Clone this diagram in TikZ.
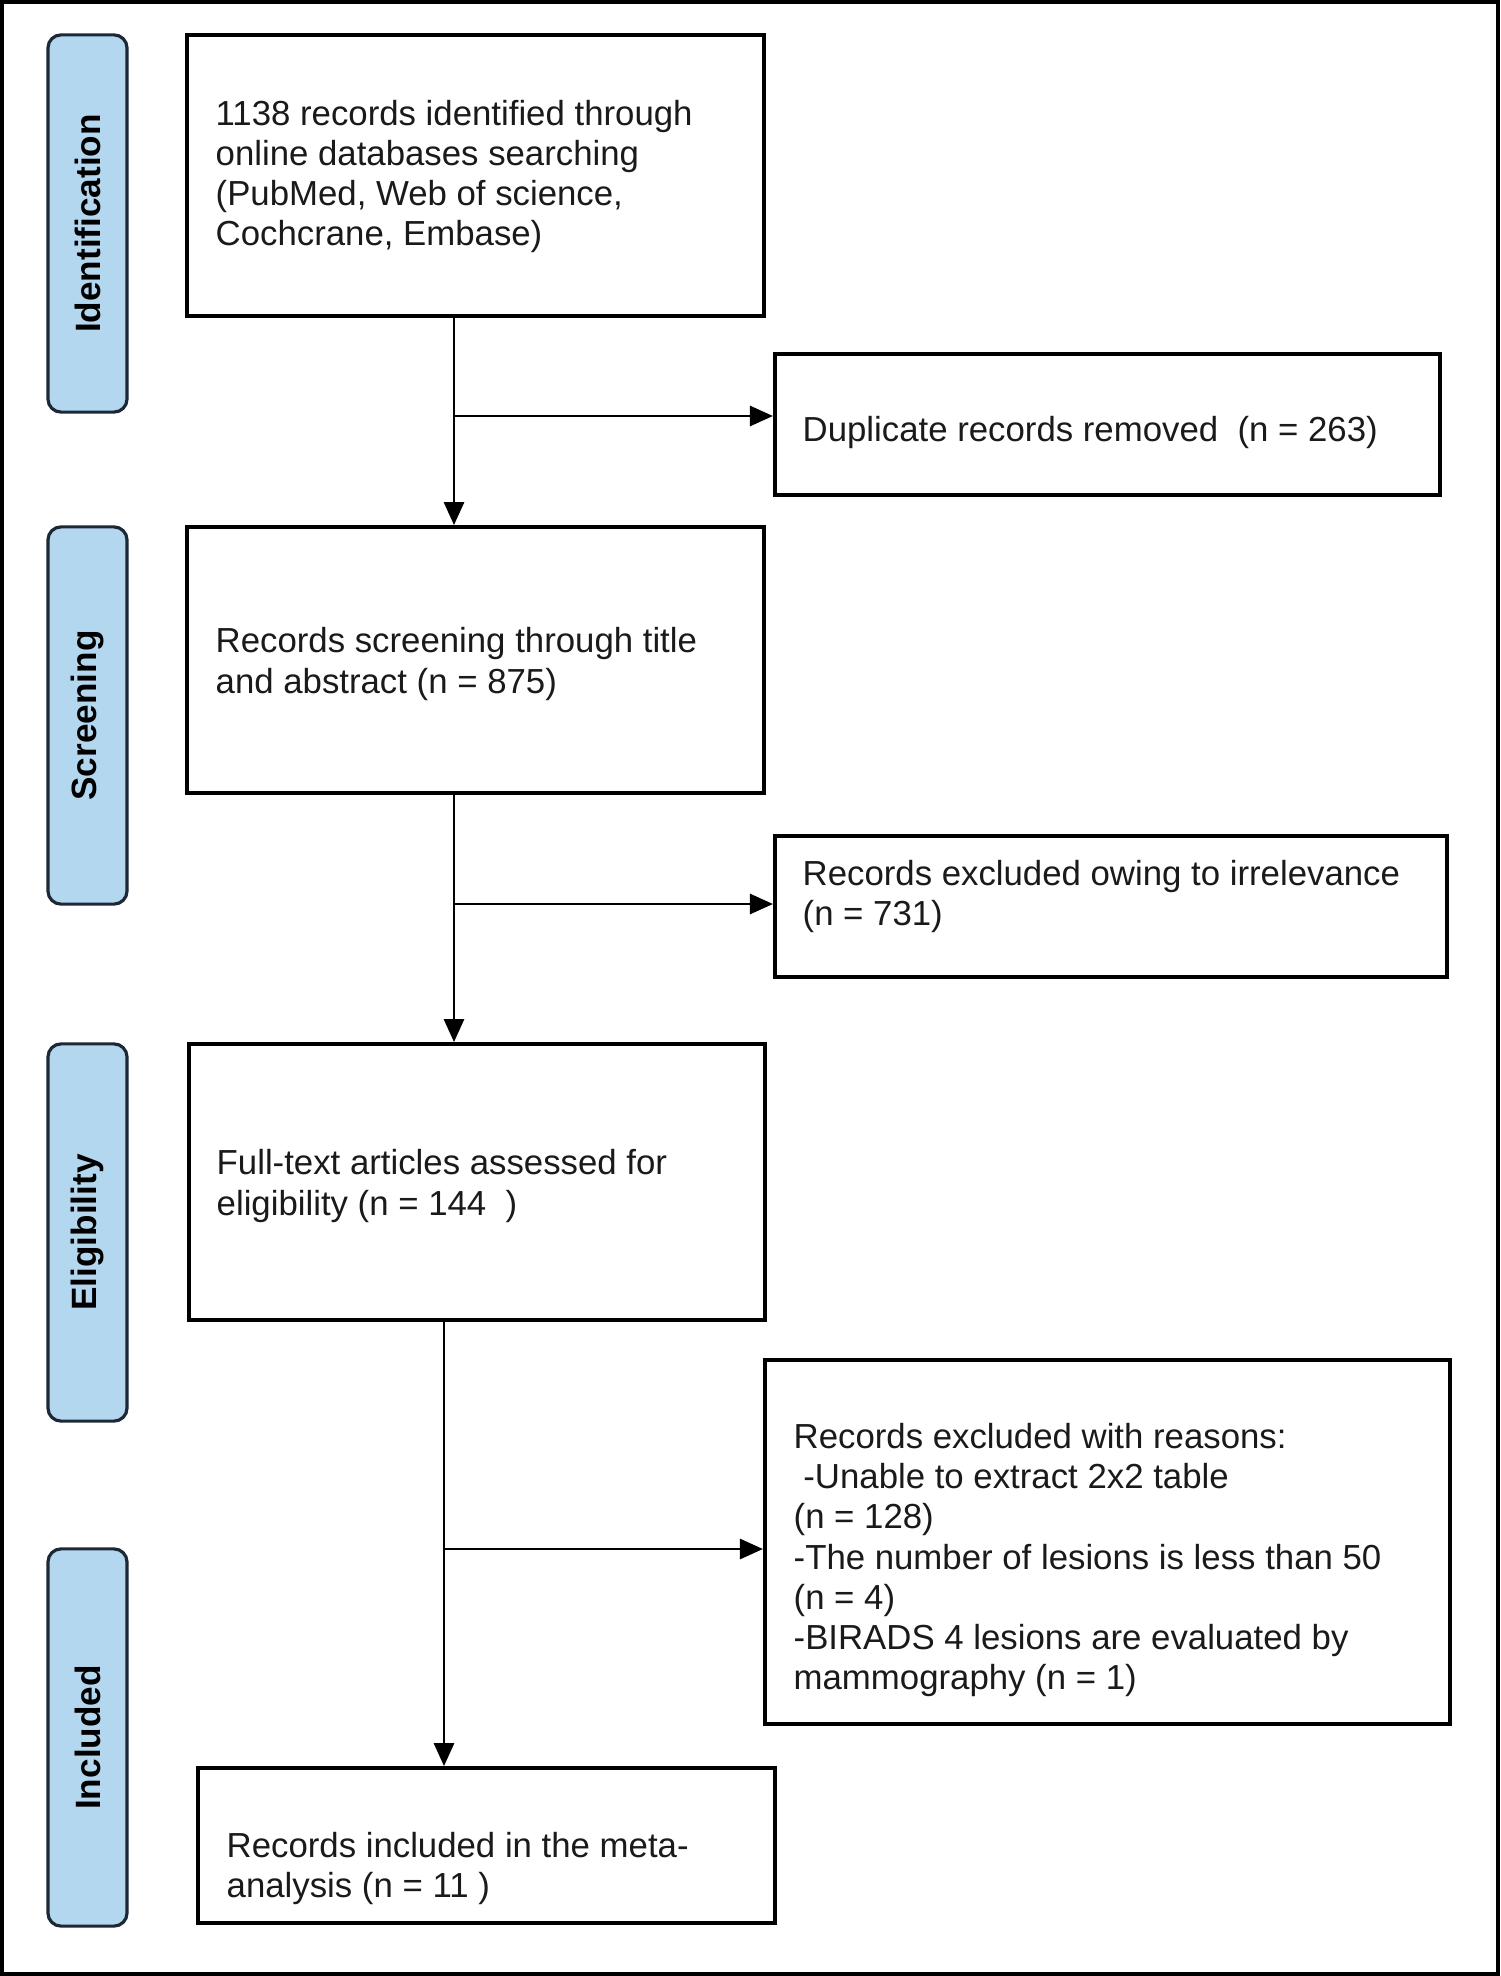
\documentclass[tikz,border=0pt]{standalone}
\usepackage{fontspec}
\setmainfont{Liberation Sans}
\usetikzlibrary{arrows.meta,calc}
\definecolor{pillfill}{HTML}{B4D7F0}
\definecolor{pilldraw}{HTML}{1C2833}
\definecolor{txt}{HTML}{1A1A1A}
\begin{document}
\begin{tikzpicture}[x=0.01cm,y=-0.01cm,
 box/.style={draw=black,line width=1.05pt,rectangle,inner sep=0pt},
 pill/.style={draw=pilldraw,fill=pillfill,line width=0.9pt,rounded corners=0.13cm,minimum width=0.79cm,minimum height=3.77cm,inner sep=0pt},
 pilltext/.style={rotate=90,inner sep=0pt,font=\fontsize{10pt}{11pt}\selectfont\bfseries,text=black},
 lbl/.style={anchor=west,align=left,inner sep=0pt,text=txt,font=\fontsize{9.89pt}{11.45pt}\selectfont},
 arr/.style={line width=0.8pt,-{Triangle[length=0.23cm,width=0.2cm]}},
 ln/.style={line width=0.8pt}]
\useasboundingbox (0,0) rectangle (1500,1976);
\draw[line width=1.2pt] (2,2) rectangle (1498,1974);

% phase pills
\node[pill] (p1) at (87.5,223.5) {};
\node[pilltext] (pl1) at (p1.center) {Identification};
\node[pill] (p2) at (87.5,715.5) {};
\node[pilltext] (pl2) at (p2.center) {Screening};
\node[pill] (p3) at (87.5,1232.5) {};
\node[pilltext] (pl3) at (p3.center) {Eligibility};
\node[pill] (p4) at (87.5,1737.5) {};
\node[pilltext] (pl4) at (p4.center) {Included};

% boxes
\node[box,minimum width=5.77cm,minimum height=2.81cm] (b1) at (475.5,175.5) {};
\node[lbl] (t1) at ($(b1.west)+(30,1)$) {1138 records identified through\\online databases searching\\(PubMed, Web of science,\\Cochcrane, Embase)};

\node[box,minimum width=6.65cm,minimum height=1.41cm] (dup) at (1107.5,424.5) {};
\node[lbl] (tdup) at ($(dup.west)+(29,8)$) {Duplicate records removed\ \ (n = 263)};

\node[box,minimum width=5.77cm,minimum height=2.66cm] (b2) at (475.5,660) {};
\node[lbl] (t2) at ($(b2.west)+(30,4)$) {Records screening through title\\and abstract (n = 875)};

\node[box,minimum width=6.72cm,minimum height=1.41cm] (ex1) at (1111,906.5) {};
\node[lbl] (tex1) at ($(ex1.west)+(29,-10)$) {Records excluded owing to irrelevance\\(n = 731)};

\node[box,minimum width=5.76cm,minimum height=2.76cm] (b3) at (477,1182) {};
\node[lbl] (t3) at ($(b3.west)+(29,4)$) {Full-text articles assessed for\\eligibility (n = 144\ \ )};

\node[box,minimum width=6.85cm,minimum height=3.64cm] (ex2) at (1107.5,1542) {};
\node[lbl] (tex2) at ($(ex2.west)+(30,18)$) {Records excluded with reasons:\\\hspace{0.28em}-Unable to extract 2x2 table\\(n = 128)\\-The number of lesions is less than 50\\(n = 4)\\-BIRADS 4 lesions are evaluated by\\mammography (n = 1)};

\node[box,minimum width=5.77cm,minimum height=1.55cm] (b4) at (486.5,1845.5) {};
\node[lbl] (t4) at ($(b4.west)+(30,23)$) {Records included in the meta-\\analysis (n = 11\ )};

% connectors
\coordinate (j1) at (454,416);
\draw[ln] (b1.south -| j1) -- (j1);
\draw[arr] (j1) -- (b2.north -| j1);
\draw[arr] (j1) -- (dup.west |- j1);

\coordinate (j2) at (454,904);
\draw[ln] (b2.south -| j2) -- (j2);
\draw[arr] (j2) -- (b3.north -| j2);
\draw[arr] (j2) -- (ex1.west |- j2);

\coordinate (j3) at (444,1549);
\draw[ln] (b3.south -| j3) -- (j3);
\draw[arr] (j3) -- (b4.north -| j3);
\draw[arr] (j3) -- (ex2.west |- j3);
\end{tikzpicture}
\end{document}
